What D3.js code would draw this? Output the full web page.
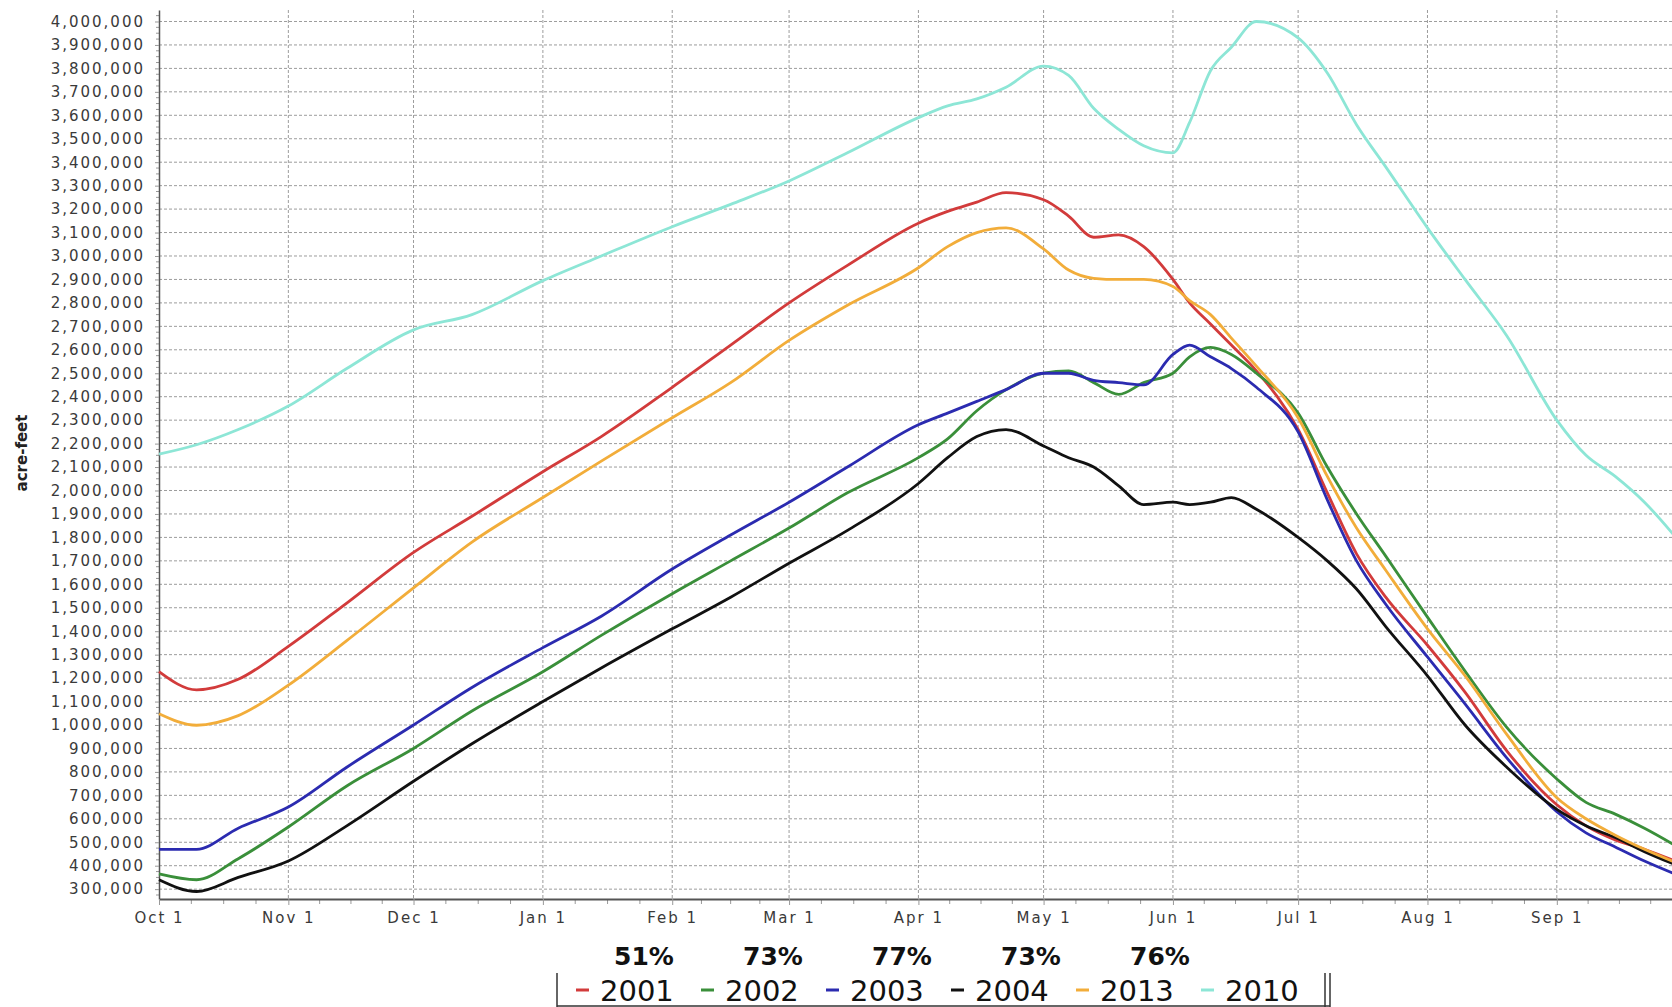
<!DOCTYPE html>
<html>
<head>
<meta charset="utf-8">
<script src="https://cdn.jsdelivr.net/npm/d3@7"></script>
<style>
  body { margin: 0; background: #fff; }
  svg { display: block; }
  .tick text { font-family: "DejaVu Sans", Verdana, sans-serif; fill: #3a3a3a; }
</style>
</head>
<body>
<div id="chart"></div>
<script>
// Frame and plot area
const FRAME_WIDTH = 1672;
const FRAME_HEIGHT = 1007;
const PLOT = {left: 159, top: 10, bottom: 899, right: 1682};

// Dates across the water year (Oct - Sep), month-day
const dates = ["10-01","10-10","10-20","11-01","11-15","12-01","12-15",
               "01-01","01-15","02-01","02-15","03-01","03-15",
               "04-01","04-08","04-15","04-22","05-01","05-07","05-13","05-19","05-25",
               "06-01","06-05","06-10","06-15","06-21","07-01","07-08","07-15","07-22",
               "08-01","08-10","08-20","09-01","09-08","09-15","09-22","09-30"];

// Storage, thousand acre-feet
const s2001 = [1228,1150,1195,1335,1520,1736,1890,2080,2230,2440,2620,2800,2960,
               3140,3190,3230,3270,3240,3170,3080,3090,3040,2900,2800,2710,2620,2510,
               2260,1990,1730,1545,1340,1140,890,660,570,510,470,415];
const s2002 = [365,340,430,565,740,900,1060,1227,1382,1560,1700,1840,1990,
               2140,2220,2340,2430,2500,2510,2460,2410,2460,2500,2570,2610,2580,2500,
               2330,2100,1900,1720,1460,1230,990,770,670,620,560,480];
const s2003 = [470,470,560,650,820,1000,1160,1330,1464,1665,1810,1950,2100,
               2280,2330,2380,2430,2500,2500,2470,2460,2450,2580,2620,2570,2520,2440,
               2250,1960,1700,1515,1290,1090,860,630,540,480,420,360];
const s2004 = [340,290,350,420,570,760,920,1100,1243,1410,1545,1690,1830,
               2030,2140,2230,2260,2190,2140,2100,2020,1940,1950,1940,1950,1970,1920,
               1800,1700,1580,1420,1210,1000,820,640,570,520,460,400];
const s2013 = [1048,999,1040,1170,1360,1585,1780,1970,2125,2310,2460,2640,2790,
               2950,3040,3100,3120,3030,2940,2905,2900,2900,2870,2810,2750,2650,2530,
               2310,2060,1840,1660,1410,1210,960,690,600,530,470,410];
const s2010 = [2155,2195,2260,2360,2520,2685,2750,2895,3000,3125,3220,3320,3440,
               3590,3640,3670,3720,3810,3770,3630,3540,3470,3440,3570,3790,3890,4000,
               3930,3780,3560,3380,3120,2900,2660,2300,2150,2060,1950,1790];

const years = ["2001","2002","2003","2004","2013","2010"];
const seriesValues = [s2001, s2002, s2003, s2004, s2013, s2010];
const colors = ["#d23b3b","#3a8f3a","#2b2bb0","#111111","#f2ad3a","#8de6d6"];

const monthLabels = ["Oct 1","Nov 1","Dec 1","Jan 1","Feb 1","Mar 1",
                     "Apr 1","May 1","Jun 1","Jul 1","Aug 1","Sep 1"];
const pctLabels = ["51%","73%","77%","73%","76%"];
const yLabel = "acre-feet";

// month-day string -> date in the 2000/2001 water year
function toDate(md) {
  const [m, d] = md.split("-").map(Number);
  return new Date(m >= 10 ? 2000 : 2001, m - 1, d);
}

const svg = d3.select("#chart")
  .append("svg")
    .attr("width", FRAME_WIDTH)
    .attr("height", FRAME_HEIGHT);

const X_SCALE = d3.scaleTime()
  .domain([new Date(2000, 9, 1), new Date(2001, 9, 1)])
  .range([PLOT.left, PLOT.right]);

const Y_SCALE = d3.scaleLinear()
  .domain([258000, 4049000])
  .range([PLOT.bottom, PLOT.top]);

const monthStarts = d3.timeMonth.range(new Date(2000, 9, 1), new Date(2001, 9, 1));
const yTicks = d3.range(300000, 4000001, 100000);

// minor x ticks: month split in quarters
const xMinor = [];
monthStarts.forEach((m) => {
  const next = d3.timeMonth.offset(m, 1);
  for (let q = 1; q < 4; q++) {
    xMinor.push(new Date(+m + (next - m) * q / 4));
  }
});
const yMinor = d3.range(275000, 4040000, 25000).filter((v) => v % 100000 !== 0);

// dashed grid
svg.append("g")
  .selectAll("line")
  .data(yTicks)
  .enter()
  .append("line")
    .attr("x1", PLOT.left).attr("x2", PLOT.right)
    .attr("y1", (d) => Y_SCALE(d)).attr("y2", (d) => Y_SCALE(d))
    .attr("stroke", "#9c9c9c")
    .attr("stroke-width", 1)
    .attr("stroke-dasharray", "3,2");

svg.append("g")
  .selectAll("line")
  .data(monthStarts.slice(1))
  .enter()
  .append("line")
    .attr("x1", (d) => X_SCALE(d)).attr("x2", (d) => X_SCALE(d))
    .attr("y1", PLOT.top).attr("y2", PLOT.bottom)
    .attr("stroke", "#9c9c9c")
    .attr("stroke-width", 1)
    .attr("stroke-dasharray", "3,2");

// minor ticks
svg.append("g")
  .selectAll("line")
  .data(yMinor)
  .enter()
  .append("line")
    .attr("x1", PLOT.left - 3).attr("x2", PLOT.left)
    .attr("y1", (d) => Y_SCALE(d)).attr("y2", (d) => Y_SCALE(d))
    .attr("stroke", "#999");

svg.append("g")
  .selectAll("line")
  .data(xMinor)
  .enter()
  .append("line")
    .attr("x1", (d) => X_SCALE(d)).attr("x2", (d) => X_SCALE(d))
    .attr("y1", PLOT.bottom).attr("y2", PLOT.bottom + 5)
    .attr("stroke", "#999");

// y axis
const yAxis = svg.append("g")
  .attr("transform", "translate(" + PLOT.left + ",0)")
  .call(d3.axisLeft(Y_SCALE)
          .tickValues(yTicks)
          .tickFormat(d3.format(","))
          .tickSize(4)
          .tickSizeOuter(0)
          .tickPadding(10));
yAxis.select(".domain").attr("stroke", "#555").attr("stroke-width", 1.5);
yAxis.selectAll(".tick line").attr("stroke", "#999");
yAxis.selectAll(".tick text")
  .attr("font-size", "15px")
  .attr("letter-spacing", "2px");

// x axis
const xAxis = svg.append("g")
  .attr("transform", "translate(0," + PLOT.bottom + ")")
  .call(d3.axisBottom(X_SCALE)
          .tickValues(monthStarts)
          .tickFormat((d, i) => monthLabels[i])
          .tickSize(6)
          .tickSizeOuter(0)
          .tickPadding(7));
xAxis.select(".domain").attr("stroke", "#555").attr("stroke-width", 2);
xAxis.selectAll(".tick line").attr("stroke", "#999");
xAxis.selectAll(".tick text")
  .attr("font-size", "15px")
  .attr("letter-spacing", "2px");

// axis title
svg.append("text")
  .attr("transform", "translate(27,453) rotate(-90)")
  .attr("text-anchor", "middle")
  .attr("font-family", "'DejaVu Sans', Verdana, sans-serif")
  .attr("font-weight", "bold")
  .attr("font-size", "15px")
  .attr("fill", "#222")
  .text(yLabel);

// series lines
const line = d3.line()
  .x((d) => X_SCALE(d.date))
  .y((d) => Y_SCALE(d.value))
  .curve(d3.curveMonotoneX);

const series = years.map((y, i) => ({
  year: y,
  color: colors[i],
  points: dates.map((md, j) => ({date: toDate(md), value: seriesValues[i][j] * 1000}))
}));

svg.append("g")
  .selectAll("path")
  .data(series)
  .enter()
  .append("path")
    .attr("d", (d) => line(d.points))
    .attr("fill", "none")
    .attr("stroke", (d) => d.color)
    .attr("stroke-width", 2.8)
    .attr("stroke-linejoin", "round");

// percentages above the legend
svg.append("g")
  .selectAll("text")
  .data(pctLabels)
  .enter()
  .append("text")
    .attr("x", (d, i) => 644 + i * 129)
    .attr("y", 965)
    .attr("text-anchor", "middle")
    .attr("font-family", "'DejaVu Sans', Verdana, sans-serif")
    .attr("font-weight", "bold")
    .attr("font-size", "25px")
    .attr("fill", "#111")
    .text((d) => d);

// legend box
const legend = svg.append("g");
legend.append("line")
  .attr("x1", 557).attr("x2", 557).attr("y1", 973).attr("y2", 1007)
  .attr("stroke", "#333").attr("stroke-width", 1.5);
legend.append("line")
  .attr("x1", 557).attr("x2", 1330).attr("y1", 1006).attr("y2", 1006)
  .attr("stroke", "#333").attr("stroke-width", 1.5);
[1325, 1330].forEach((x) => {
  legend.append("line")
    .attr("x1", x).attr("x2", x).attr("y1", 973).attr("y2", 1007)
    .attr("stroke", "#333").attr("stroke-width", 1.5);
});

const items = legend.selectAll(".item")
  .data(series)
  .enter()
  .append("g")
    .attr("class", "item")
    .attr("transform", (d, i) => "translate(" + (576 + i * 125) + ",0)");

items.append("line")
  .attr("x1", 0).attr("x2", 13)
  .attr("y1", 990).attr("y2", 990)
  .attr("stroke", (d) => d.color)
  .attr("stroke-width", 3);

items.append("text")
  .attr("x", 24)
  .attr("y", 1001)
  .attr("font-family", "'DejaVu Sans', Verdana, sans-serif")
  .attr("font-size", "29px")
  .attr("fill", "#111")
  .text((d) => d.year);
</script>
</body>
</html>
